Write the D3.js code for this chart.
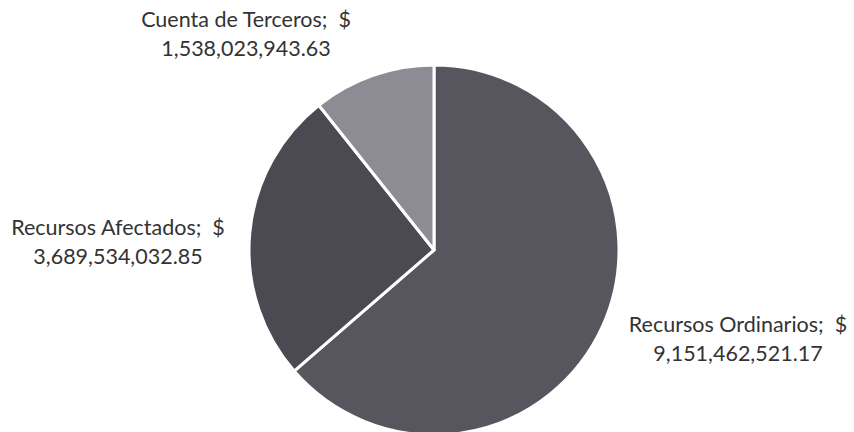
<!DOCTYPE html>
<html>
<head>
<meta charset="utf-8">
<script src="https://cdn.jsdelivr.net/npm/d3@7"></script>
<style>
  body { margin: 0; background: #fff; }
  text { font-family: Lato, "Open Sans", sans-serif; fill: #333; }
</style>
</head>
<body>
<div id="pie"></div>
<script>
// datos
const categories = ["Recursos Ordinarios", "Recursos Afectados", "Cuenta de Terceros"];
const values = [9151462521.17, 3689534032.85, 1538023943.63];
const valueLabels = ["9,151,462,521.17", "3,689,534,032.85", "1,538,023,943.63"];
const colors = ["#57565e", "#4b4a53", "#8d8c94"];
// centro (x) y linea base de la primera linea de cada etiqueta
const labelPos = [[738, 332], [118, 235], [246, 27]];

const width = 854, height = 432;
const cx = 434, cy = 250, r = 185;

const svg = d3.select("#pie").append("svg")
    .attr("width", width)
    .attr("height", height);

const g = svg.append("g")
    .attr("transform", `translate(${cx},${cy})`);

const pie = d3.pie().sort(null).value(d => d);
const arc = d3.arc().innerRadius(0).outerRadius(r);
const arcs = pie(values);

g.selectAll("path")
    .data(arcs)
    .enter()
    .append("path")
    .attr("d", arc)
    .attr("fill", (d, i) => colors[i])
    .attr("stroke", "#fff")
    .attr("stroke-width", 3)
    .attr("stroke-linejoin", "round");

// etiquetas
const labels = svg.selectAll("text.lbl")
    .data(categories)
    .enter()
    .append("text")
    .attr("class", "lbl")
    .attr("text-anchor", "middle")
    .attr("font-size", 21.5);

labels.append("tspan")
    .attr("x", (d, i) => labelPos[i][0])
    .attr("y", (d, i) => labelPos[i][1])
    .text(d => d + ";\u00a0 $");
labels.append("tspan")
    .attr("x", (d, i) => labelPos[i][0])
    .attr("y", (d, i) => labelPos[i][1] + 29)
    .text((d, i) => valueLabels[i]);
</script>
</body>
</html>
